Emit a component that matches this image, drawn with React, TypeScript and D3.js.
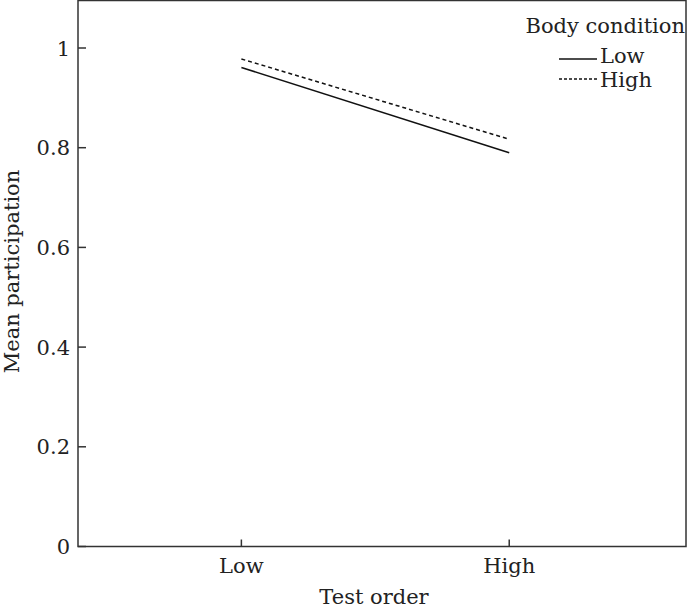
import React from "react";
import * as d3 from "d3";

const testOrder = ["Low", "High"];
const seriesNames = ["Low", "High"];
const lowBody = [0.961, 0.79];
const highBody = [0.978, 0.817];
const yTicks = [0, 0.2, 0.4, 0.6, 0.8, 1];
const yTickLabels = ["0", "0.2", "0.4", "0.6", "0.8", "1"];

const W = 688;
const H = 611;
const FONT = "'DejaVu Serif', serif";
const FS = 21;

export default function App() {
  const left = 78, right = 686, top = 0.5, bottom = 546.5;
  const x = d3.scaleLinear().domain([0.39, 2.66]).range([left, right]);
  const y = d3.scaleLinear().domain([0, 1]).range([bottom, bottom - 498.5]);
  const line = d3.line<number>().x((_, i) => x(i + 1)).y((d) => y(d));
  const series = [
    { name: seriesNames[0], values: lowBody, dash: "none" },
    { name: seriesNames[1], values: highBody, dash: "4,3" },
  ];
  return (
    <svg width={W} height={H} style={{ position: "absolute", left: 0, top: 0, background: "#fff" }} fontFamily={FONT}>
      <rect x={left} y={top} width={right - left} height={bottom - top} fill="none" stroke="#333" strokeWidth={1.5} />
      {yTicks.map((t, i) => (
        <g key={t}>
          <line x1={left} x2={left + 8} y1={y(t)} y2={y(t)} stroke="#333" strokeWidth={1.5} />
          <text x={70} y={y(t)} dy="0.36em" textAnchor="end" fontSize={FS} fill="#222">{yTickLabels[i]}</text>
        </g>
      ))}
      {testOrder.map((c, i) => (
        <g key={c}>
          <line x1={x(i + 1)} x2={x(i + 1)} y1={bottom} y2={bottom - 7} stroke="#333" strokeWidth={1.5} />
          <text x={x(i + 1)} y={573} textAnchor="middle" fontSize={FS} fill="#222">{c}</text>
        </g>
      ))}
      {series.map((s) => (
        <path key={s.name} d={line(s.values) || ""} fill="none" stroke="#111" strokeWidth={1.5} strokeDasharray={s.dash} />
      ))}
      <text x={374} y={604} textAnchor="middle" fontSize={FS} fill="#222">Test order</text>
      <text transform={`translate(19,${(top + bottom) / 2 - 2}) rotate(-90)`} textAnchor="middle" fontSize={FS} fill="#222">Mean participation</text>
      <text x={685} y={33} textAnchor="end" fontSize={FS} fill="#222">Body condition</text>
      {series.map((s, i) => (
        <g key={"leg" + s.name}>
          <line x1={559} x2={597} y1={59 + i * 20} y2={59 + i * 20} stroke="#111" strokeWidth={1.3} strokeDasharray={s.dash === "none" ? "none" : "3,2"} />
          <text x={600} y={63 + i * 24} fontSize={FS} fill="#222">{s.name}</text>
        </g>
      ))}
    </svg>
  );
}
